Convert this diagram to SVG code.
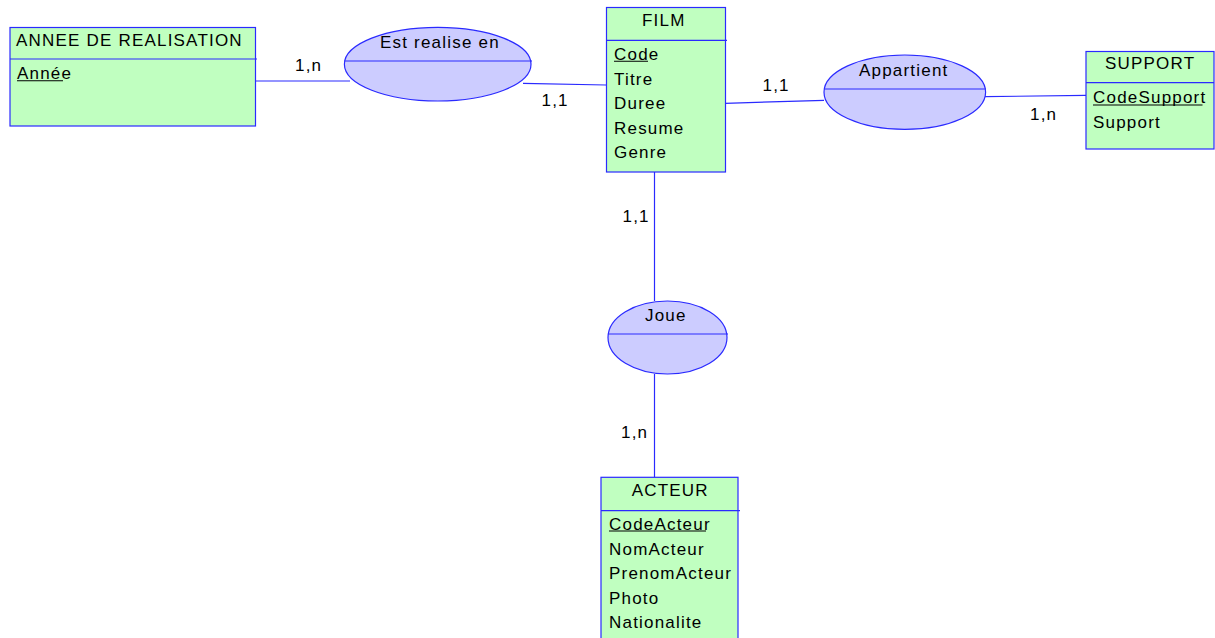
<svg xmlns="http://www.w3.org/2000/svg" width="1215" height="638" viewBox="0 0 1215 638">
<style>
text{font-family:"Liberation Sans",Arial,sans-serif;font-size:17px;letter-spacing:1.2px;fill:#000}
.ent{fill:#c0ffc0;stroke:#2a2aff;stroke-width:1.2}
.rel{fill:#ccccff;stroke:#2a2aff;stroke-width:1.2}
.sep{stroke:#2a2aff;stroke-width:1.2;fill:none}
.ul{stroke:#000;stroke-width:1.1}
.conn line{stroke:#2a2aff;stroke-width:1.2}
</style>
<rect width="1215" height="638" fill="#fff"/>
<g id="connectors" class="conn">
<line x1="255" y1="81" x2="350" y2="81"/>
<line x1="523" y1="83.3" x2="606" y2="85"/>
<line x1="725" y1="103.3" x2="824" y2="100.3"/>
<line x1="985" y1="96.7" x2="1086" y2="95.3"/>
<line x1="654.5" y1="172" x2="654.5" y2="301"/>
<line x1="654.5" y1="374" x2="654.5" y2="477"/>
</g>
<g id="labels">
<text x="295" y="70.5">1,n</text>
<text x="541.5" y="106">1,1</text>
<text x="762.5" y="91">1,1</text>
<text x="1030" y="119.5">1,n</text>
<text x="622.5" y="221.5">1,1</text>
<text x="621" y="438">1,n</text>
</g>
<g id="annee">
<rect class="ent" x="10" y="27.5" width="245.5" height="98.5"/>
<line class="sep" x1="10" y1="59" x2="257" y2="59"/>
<text x="16" y="46">ANNEE DE REALISATION</text>
<text x="17" y="79">Année</text>
<line class="ul" x1="17" y1="80.8" x2="63" y2="80.8"/>
</g>
<g id="est-realise-en">
<ellipse class="rel" cx="437.7" cy="64.2" rx="93.3" ry="36.8"/>
<line class="sep" x1="344.4" y1="61" x2="532" y2="61"/>
<text x="380" y="47.5">Est realise en</text>
</g>
<g id="film">
<rect class="ent" x="606.5" y="7.5" width="119" height="164.5"/>
<line class="sep" x1="606.5" y1="40.3" x2="727" y2="40.3"/>
<text x="642" y="26">FILM</text>
<text x="614" y="59.5">Code</text>
<line class="ul" x1="614" y1="61.2" x2="648" y2="61.2"/>
<text x="614" y="84.5">Titre</text>
<text x="614" y="109">Duree</text>
<text x="614" y="133.5">Resume</text>
<text x="614" y="158">Genre</text>
</g>
<g id="appartient">
<ellipse class="rel" cx="904.8" cy="92.2" rx="80.8" ry="37.2"/>
<line class="sep" x1="824" y1="89" x2="986" y2="89"/>
<text x="859" y="76">Appartient</text>
</g>
<g id="support">
<rect class="ent" x="1086" y="51.5" width="128" height="97.5"/>
<line class="sep" x1="1086" y1="82.7" x2="1214" y2="82.7"/>
<text x="1105" y="69.3">SUPPORT</text>
<text x="1093" y="102.7">CodeSupport</text>
<line class="ul" x1="1093" y1="105" x2="1202.5" y2="105"/>
<text x="1093" y="127.7">Support</text>
</g>
<g id="joue">
<ellipse class="rel" cx="667.5" cy="337.5" rx="59.5" ry="36.5"/>
<line class="sep" x1="608" y1="334" x2="728" y2="334"/>
<text x="645" y="320.7">Joue</text>
</g>
<g id="acteur">
<rect class="ent" x="601" y="477.3" width="137" height="165"/>
<line class="sep" x1="601" y1="510.7" x2="740" y2="510.7"/>
<text x="631.7" y="496">ACTEUR</text>
<text x="609" y="529.5">CodeActeur</text>
<line class="ul" x1="609" y1="531" x2="706" y2="531"/>
<text x="609" y="554.5">NomActeur</text>
<text x="609" y="579">PrenomActeur</text>
<text x="609" y="603.5">Photo</text>
<text x="609" y="627.5">Nationalite</text>
</g>
</svg>
